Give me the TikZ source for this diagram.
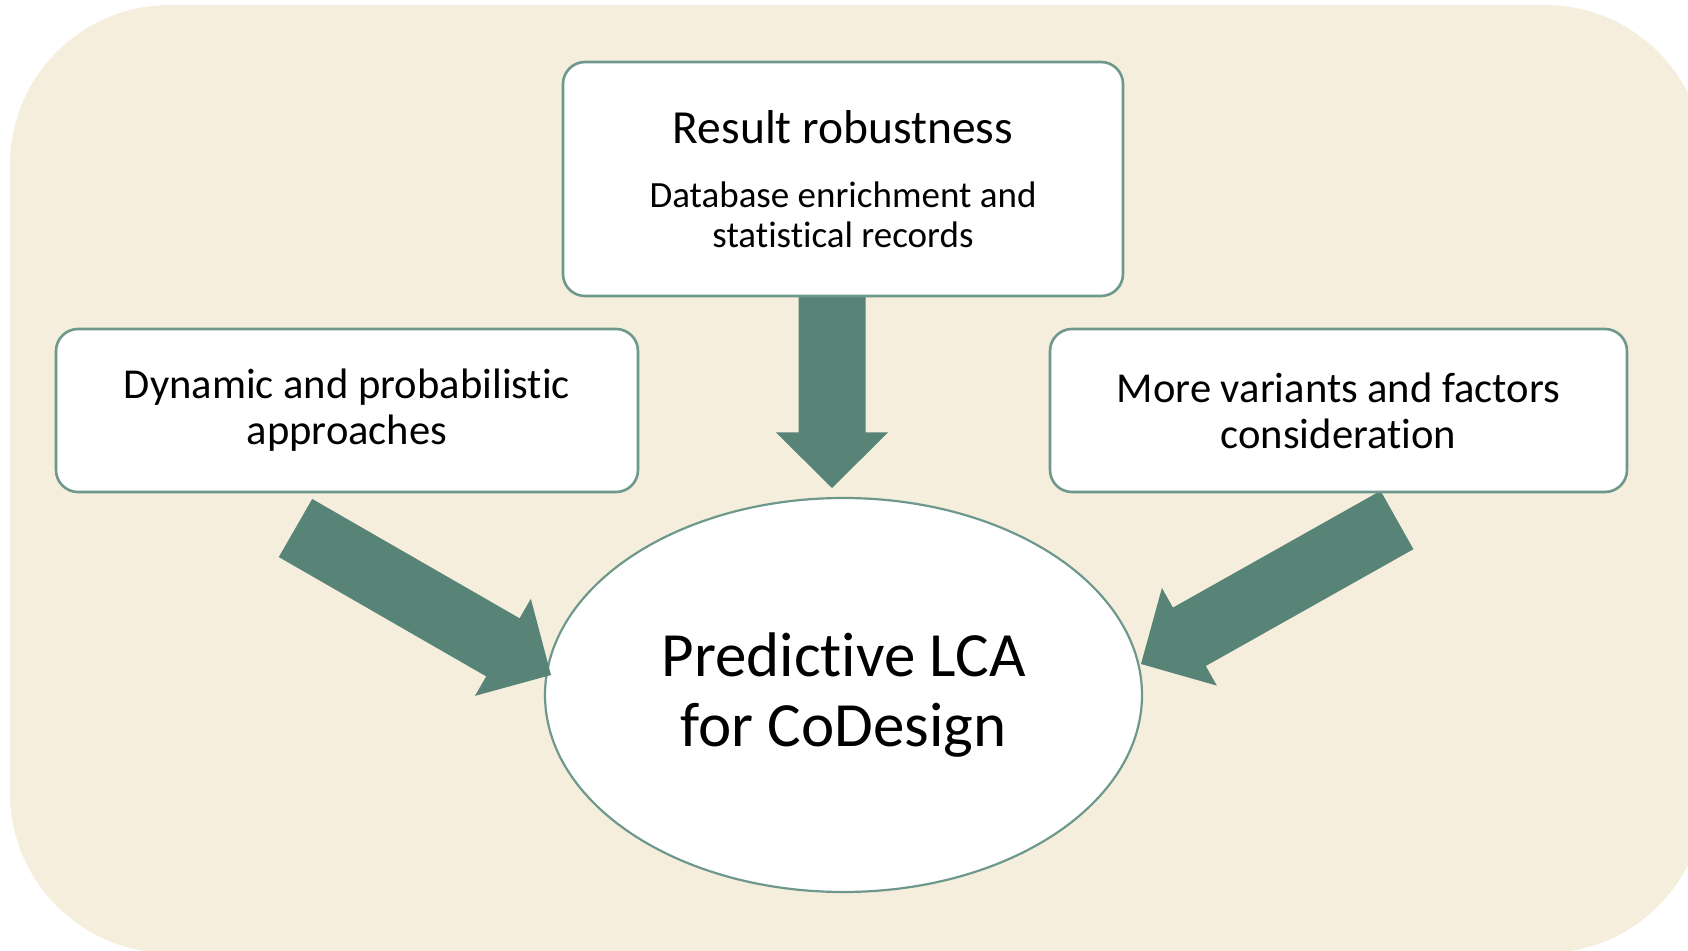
\documentclass[tikz,border=0pt]{standalone}
\usepackage{fontspec}
\setmainfont{Carlito}[Ligatures=NoCommon]
\usetikzlibrary{shapes.geometric,calc}

\definecolor{panelbg}{HTML}{F5EEDC}
\definecolor{tealfill}{HTML}{588377}
\definecolor{tealline}{HTML}{6E988C}

\tikzset{
  card/.style={draw=tealline, line width=1.3pt, fill=white,
               rounded corners=11pt, inner sep=0pt, align=center},
  hub/.style={ellipse, draw=tealline, line width=1.1pt, fill=white,
              inner sep=0pt, align=center},
  bigarrow/.style={fill=tealfill, draw=none},
  sidetext/.style={font=\fontsize{21.3pt}{23pt}\selectfont},
}

% thick block arrow: #1 tail centre, #2 tip, #3 name prefix
\newcommand{\fatarrow}[3]{%
  \coordinate (#3-h) at ($(#2)!27.75pt!(#1)$);
  \fill[bigarrow]
    ($(#1)!16.75pt!90:(#2)$) -- ($(#3-h)!16.75pt!90:(#2)$) --
    ($(#3-h)!28pt!90:(#2)$) -- (#2) -- ($(#3-h)!28pt!-90:(#2)$) --
    ($(#3-h)!16.75pt!-90:(#2)$) -- ($(#1)!16.75pt!-90:(#2)$) -- cycle;
}

\begin{document}
\begin{tikzpicture}[x=0.5pt, y=-0.5pt]
  \useasboundingbox (0,0) rectangle (1688,951);
  \clip (0,0) rectangle (1688,951);

  % background panel
  \fill[panelbg, rounded corners=80pt] (10,5) rectangle (1705,953);

  % central ellipse
  \node[hub, minimum width=298.5pt, minimum height=197pt,
        font=\fontsize{31.5pt}{35pt}\selectfont] (lca) at (843.5,695)
    {Predictive LCA\\for CoDesign};

  % arrow end points
  \coordinate (dtail) at (832,296);
  \coordinate (dtip)  at (832,488);
  \coordinate (ltail) at (295.5,528);
  \coordinate (ltip)  at (551,675);
  \coordinate (rtail) at (1397,520);
  \coordinate (rtip)  at (1141,664);

  \fatarrow{dtail}{dtip}{down}
  \fatarrow{ltail}{ltip}{left}
  \fatarrow{rtail}{rtip}{right}

  % top card
  \node[card, minimum width=280pt, minimum height=117pt] (robust) at (843,179) {};
  \node[font=\fontsize{23.75pt}{26pt}\selectfont] (robusttitle) at (843,127)
    {Result robustness};
  \node[align=center, font=\fontsize{18.5pt}{20pt}\selectfont] (robustsub) at (843,215)
    {Database enrichment and\\statistical records};

  % side cards
  \node[card, sidetext, minimum width=291pt, minimum height=81.5pt] (dynamic) at (347,410.5)
    {Dynamic and probabilistic\\approaches};
  \node[card, sidetext, minimum width=288.5pt, minimum height=81.5pt] (variants) at (1338.5,410.5)
    {More variants and factors\\consideration};
\end{tikzpicture}
\end{document}
